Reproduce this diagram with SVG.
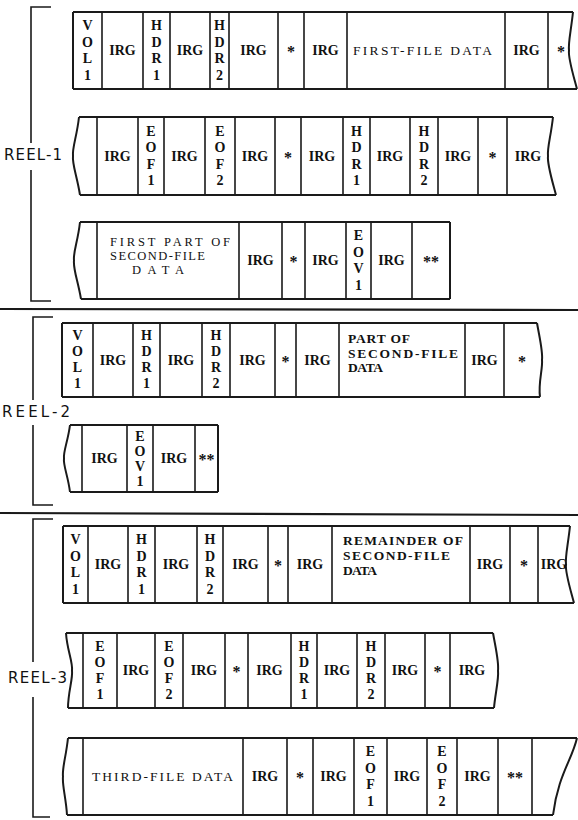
<svg xmlns="http://www.w3.org/2000/svg" width="578" height="820" viewBox="0 0 578 820">
<style>
.bg{fill:#fff}
.edge{fill:none;stroke:#1a1a1a;stroke-width:2}
.div{fill:none;stroke:#1a1a1a;stroke-width:1.6}
.br{fill:none;stroke:#1a1a1a;stroke-width:1.6}
.sep{fill:none;stroke:#1a1a1a;stroke-width:2.2}
text{font-family:"Liberation Serif","Times New Roman",serif;fill:#111}
.c{font-size:14px;font-weight:bold;text-anchor:middle}
.s{font-size:16px;font-weight:bold;text-anchor:middle}
.d{font-size:13.5px;font-weight:bold}
.dn{font-size:13.5px}
.d3{font-size:12.5px}
.reel{font-family:"DejaVu Sans","Liberation Sans",sans-serif;font-size:15px}
</style>
<rect class="bg" x="0" y="0" width="578" height="820"/>

<g id="separators">
<path class="sep" d="M0,309L578,310"/>
<path class="sep" d="M0,513L578,515"/>
</g>

<g id="reel1">
<path class="br" d="M51,7H31V143M31,170V301H51"/>
<text class="reel" x="4" y="160" textLength="58" lengthAdjust="spacing">REEL-1</text>
</g>
<g id="reel2">
<path class="br" d="M53,317H33V400M33,425V505H53"/>
<text class="reel" x="2" y="417" textLength="68" lengthAdjust="spacing">REEL-2</text>
</g>
<g id="reel3">
<path class="br" d="M53,519H33V662M33,697V817H50"/>
<text class="reel" x="8" y="683" textLength="59" lengthAdjust="spacing">REEL-3</text>
</g>

<g id="row1">
<path class="edge" d="M73,12H573M73,89H577M73,12V89"/>
<path class="edge" d="M573,12C571,31 568,43 569,50.5C568,58 573,74 577,89"/>
<path class="div" d="M102,12V89M143,12V89M170,12V89M210,12V89M229,12V89M278,12V89M304,12V89M347,12V89M505,12V89M548,12V89"/>
<text class="c"><tspan x="87.5" y="30">V</tspan><tspan x="87.5" y="46.5">O</tspan><tspan x="87.5" y="63">L</tspan><tspan x="87.5" y="79.5">1</tspan></text>
<text class="c" x="122.5" y="55">IRG</text>
<text class="c"><tspan x="156.5" y="30">H</tspan><tspan x="156.5" y="46.5">D</tspan><tspan x="156.5" y="63">R</tspan><tspan x="156.5" y="79.5">1</tspan></text>
<text class="c" x="190" y="55">IRG</text>
<text class="c"><tspan x="219.5" y="30">H</tspan><tspan x="219.5" y="46.5">D</tspan><tspan x="219.5" y="63">R</tspan><tspan x="219.5" y="79.5">2</tspan></text>
<text class="c" x="253.5" y="55">IRG</text>
<text class="s" x="291" y="57">*</text>
<text class="c" x="325.5" y="55">IRG</text>
<text class="dn" x="353" y="55" textLength="139" lengthAdjust="spacing">FIRST-FILE DATA</text>
<text class="c" x="526.5" y="55">IRG</text>
<text class="s" x="561" y="57">*</text>
</g>

<g id="row2">
<path class="edge" d="M79,117H553M80,195H556"/>
<path class="edge" d="M79,117C77,136 72,148 73,156C72,164 77,176 80,195"/>
<path class="edge" d="M553,117C551,136 547,148 548,156C547,164 552,180 556,195"/>
<path class="div" d="M97,117V195M138,117V195M164,117V195M205,117V195M235,117V195M275,117V195M301,117V195M343,117V195M370,117V195M410,117V195M438,117V195M478,117V195M507,117V195"/>
<text class="c" x="117.5" y="160.5">IRG</text>
<text class="c"><tspan x="151" y="135.5">E</tspan><tspan x="151" y="152">O</tspan><tspan x="151" y="168.5">F</tspan><tspan x="151" y="185">1</tspan></text>
<text class="c" x="184.5" y="160.5">IRG</text>
<text class="c"><tspan x="220" y="135.5">E</tspan><tspan x="220" y="152">O</tspan><tspan x="220" y="168.5">F</tspan><tspan x="220" y="185">2</tspan></text>
<text class="c" x="255" y="160.5">IRG</text>
<text class="s" x="288" y="162.5">*</text>
<text class="c" x="322" y="160.5">IRG</text>
<text class="c"><tspan x="356.5" y="135.5">H</tspan><tspan x="356.5" y="152">D</tspan><tspan x="356.5" y="168.5">R</tspan><tspan x="356.5" y="185">1</tspan></text>
<text class="c" x="390" y="160.5">IRG</text>
<text class="c"><tspan x="424" y="135.5">H</tspan><tspan x="424" y="152">D</tspan><tspan x="424" y="168.5">R</tspan><tspan x="424" y="185">2</tspan></text>
<text class="c" x="458" y="160.5">IRG</text>
<text class="s" x="492.5" y="162.5">*</text>
<text class="c" x="528" y="160.5">IRG</text>
</g>

<g id="row3">
<path class="edge" d="M80,222H450M81,299H450M450,222V299"/>
<path class="edge" d="M80,222C78,241 73,252 74,260.5C73,269 78,281 81,299"/>
<path class="div" d="M97,222V299M239,222V299M282,222V299M305,222V299M346,222V299M371,222V299M412,222V299"/>
<text class="d3"><tspan x="110" y="246" textLength="120" lengthAdjust="spacing">FIRST PART OF</tspan><tspan x="110" y="260" textLength="95" lengthAdjust="spacing">SECOND-FILE</tspan><tspan x="132" y="274" textLength="52" lengthAdjust="spacing">DATA</tspan></text>
<text class="c" x="260.5" y="265">IRG</text>
<text class="s" x="293.5" y="267">*</text>
<text class="c" x="325.5" y="265">IRG</text>
<text class="c"><tspan x="358.5" y="240">E</tspan><tspan x="358.5" y="256.5">O</tspan><tspan x="358.5" y="273">V</tspan><tspan x="358.5" y="289.5">1</tspan></text>
<text class="c" x="391.5" y="265">IRG</text>
<text class="s" x="431" y="267">**</text>
</g>

<g id="row4">
<path class="edge" d="M62,323H537M62,397H540M62,323V397"/>
<path class="edge" d="M537,323C540,340 543,352 542,360C543,368 538,383 540,397"/>
<path class="div" d="M93,323V397M133,323V397M160,323V397M202,323V397M230,323V397M275,323V397M296,323V397M339,323V397M465,323V397M504,323V397"/>
<text class="c"><tspan x="77.5" y="340">V</tspan><tspan x="77.5" y="356">O</tspan><tspan x="77.5" y="372">L</tspan><tspan x="77.5" y="388">1</tspan></text>
<text class="c" x="113" y="364.5">IRG</text>
<text class="c"><tspan x="146.5" y="340">H</tspan><tspan x="146.5" y="356">D</tspan><tspan x="146.5" y="372">R</tspan><tspan x="146.5" y="388">1</tspan></text>
<text class="c" x="181" y="364.5">IRG</text>
<text class="c"><tspan x="216" y="340">H</tspan><tspan x="216" y="356">D</tspan><tspan x="216" y="372">R</tspan><tspan x="216" y="388">2</tspan></text>
<text class="c" x="252.5" y="364.5">IRG</text>
<text class="s" x="285.5" y="366.5">*</text>
<text class="c" x="317.5" y="364.5">IRG</text>
<text class="d"><tspan x="348" y="343" textLength="62" lengthAdjust="spacing">PART OF</tspan><tspan x="348" y="357.5" textLength="110" lengthAdjust="spacing">SECOND-FILE</tspan><tspan x="348" y="372" textLength="35" lengthAdjust="spacing">DATA</tspan></text>
<text class="c" x="484.5" y="364.5">IRG</text>
<text class="s" x="522" y="366.5">*</text>
</g>

<g id="row5">
<path class="edge" d="M70,425H218M70,492H218M218,425V492"/>
<path class="edge" d="M70,425C68,441 63,452 64,458.5C63,465 68,476 70,492"/>
<path class="div" d="M82,425V492M127,425V492M153,425V492M195,425V492"/>
<text class="c" x="104.5" y="463">IRG</text>
<text class="c"><tspan x="140" y="440.5">E</tspan><tspan x="140" y="455.5">O</tspan><tspan x="140" y="470.5">V</tspan><tspan x="140" y="485.5">1</tspan></text>
<text class="c" x="174" y="463">IRG</text>
<text class="s" x="206.5" y="465">**</text>
</g>

<g id="row6">
<path class="edge" d="M63,526H570M63,603H574M63,526V603"/>
<path class="edge" d="M570,526C568,545 565,557 566,564.5C565,572 570,588 574,603"/>
<path class="div" d="M88,526V603M128,526V603M155,526V603M197,526V603M223,526V603M268,526V603M288,526V603M332,526V603M470,526V603M510,526V603M538,526V603"/>
<text class="c"><tspan x="75.5" y="544">V</tspan><tspan x="75.5" y="560.5">O</tspan><tspan x="75.5" y="577">L</tspan><tspan x="75.5" y="593.5">1</tspan></text>
<text class="c" x="108" y="569">IRG</text>
<text class="c"><tspan x="141.5" y="544">H</tspan><tspan x="141.5" y="560.5">D</tspan><tspan x="141.5" y="577">R</tspan><tspan x="141.5" y="593.5">1</tspan></text>
<text class="c" x="176" y="569">IRG</text>
<text class="c"><tspan x="210" y="544">H</tspan><tspan x="210" y="560.5">D</tspan><tspan x="210" y="577">R</tspan><tspan x="210" y="593.5">2</tspan></text>
<text class="c" x="245.5" y="569">IRG</text>
<text class="s" x="278" y="571">*</text>
<text class="c" x="310" y="569">IRG</text>
<text class="d"><tspan x="343" y="545" textLength="120" lengthAdjust="spacing">REMAINDER OF</tspan><tspan x="343" y="560" textLength="107" lengthAdjust="spacing">SECOND-FILE</tspan><tspan x="343" y="575" textLength="34" lengthAdjust="spacing">DATA</tspan></text>
<text class="c" x="490" y="569">IRG</text>
<text class="s" x="524" y="571">*</text>
<text class="c" x="554" y="569">IRG</text>
</g>

<g id="row7">
<path class="edge" d="M66,633H493M68,708H494"/>
<path class="edge" d="M66,633C67,650 73,662 72,670.5C73,679 68,692 68,708"/>
<path class="edge" d="M493,633C496,650 499,662 498,670.5C499,679 495,695 494,708"/>
<path class="div" d="M83,633V708M117,633V708M155,633V708M183,633V708M225,633V708M248,633V708M291,633V708M317,633V708M357,633V708M385,633V708M425,633V708M450,633V708"/>
<text class="c"><tspan x="100" y="650.5">E</tspan><tspan x="100" y="666.5">O</tspan><tspan x="100" y="682.5">F</tspan><tspan x="100" y="698.5">1</tspan></text>
<text class="c" x="136" y="675">IRG</text>
<text class="c"><tspan x="169" y="650.5">E</tspan><tspan x="169" y="666.5">O</tspan><tspan x="169" y="682.5">F</tspan><tspan x="169" y="698.5">2</tspan></text>
<text class="c" x="204" y="675">IRG</text>
<text class="s" x="236.5" y="677">*</text>
<text class="c" x="269.5" y="675">IRG</text>
<text class="c"><tspan x="304" y="650.5">H</tspan><tspan x="304" y="666.5">D</tspan><tspan x="304" y="682.5">R</tspan><tspan x="304" y="698.5">1</tspan></text>
<text class="c" x="337" y="675">IRG</text>
<text class="c"><tspan x="371" y="650.5">H</tspan><tspan x="371" y="666.5">D</tspan><tspan x="371" y="682.5">R</tspan><tspan x="371" y="698.5">2</tspan></text>
<text class="c" x="405" y="675">IRG</text>
<text class="s" x="437.5" y="677">*</text>
<text class="c" x="472" y="675">IRG</text>
</g>

<g id="row8">
<path class="edge" d="M68,738H577M67,815H553"/>
<path class="edge" d="M68,738C66,757 62,768 63,776.5C62,785 66,798 67,815"/>
<path class="edge" d="M577,738C572,760 558,775 553,815"/>
<path class="div" d="M83,738V815M243,738V815M287,738V815M313,738V815M354,738V815M387,738V815M427,738V815M457,738V815M498,738V815M532,738V815"/>
<text class="dn" x="92" y="781" textLength="141" lengthAdjust="spacing">THIRD-FILE DATA</text>
<text class="c" x="265" y="781">IRG</text>
<text class="s" x="300" y="783">*</text>
<text class="c" x="333.5" y="781">IRG</text>
<text class="c"><tspan x="370.5" y="756">E</tspan><tspan x="370.5" y="772.5">O</tspan><tspan x="370.5" y="789">F</tspan><tspan x="370.5" y="805.5">1</tspan></text>
<text class="c" x="407" y="781">IRG</text>
<text class="c"><tspan x="442" y="756">E</tspan><tspan x="442" y="772.5">O</tspan><tspan x="442" y="789">F</tspan><tspan x="442" y="805.5">2</tspan></text>
<text class="c" x="477.5" y="781">IRG</text>
<text class="s" x="515" y="783">**</text>
</g>
</svg>
